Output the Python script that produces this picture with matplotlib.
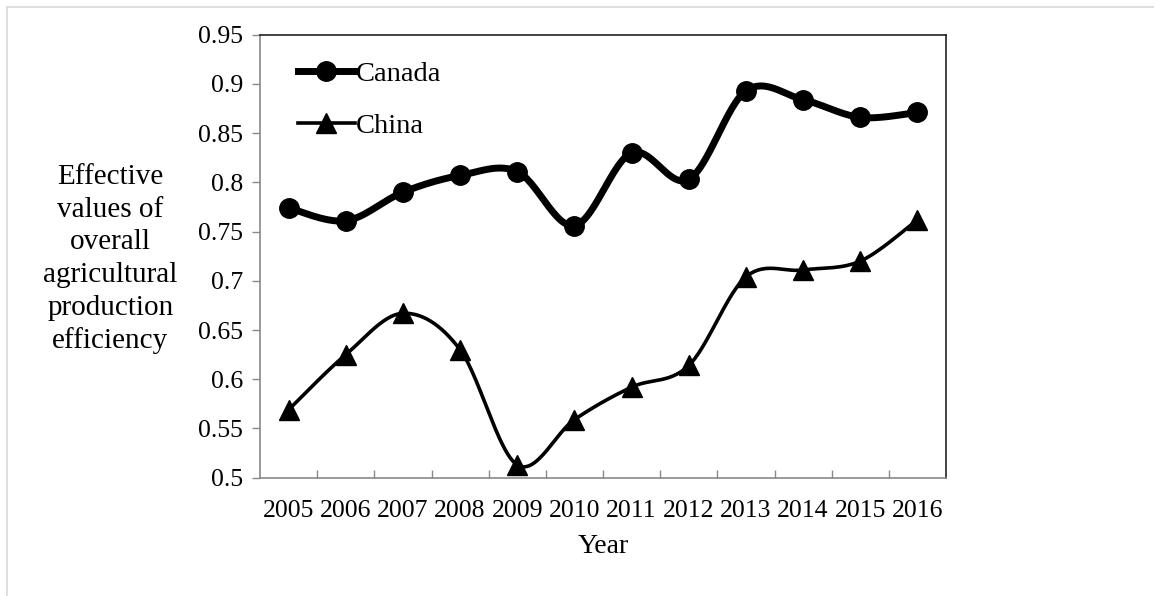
import numpy as np
import matplotlib
matplotlib.use('Agg')
import matplotlib.pyplot as plt
from matplotlib.lines import Line2D

plt.rcParams['font.family'] = ['Liberation Serif', 'DejaVu Serif']

years = ['2005', '2006', '2007', '2008', '2009', '2010',
         '2011', '2012', '2013', '2014', '2015', '2016']
canada = [0.774, 0.761, 0.790, 0.807, 0.811, 0.756,
          0.830, 0.803, 0.893, 0.884, 0.866, 0.871]
china = [0.569, 0.625, 0.667, 0.630, 0.513, 0.559,
         0.592, 0.614, 0.704, 0.711, 0.720, 0.762]
y_ticks = [0.5, 0.55, 0.6, 0.65, 0.7, 0.75, 0.8, 0.85, 0.9, 0.95]
y_labels = ['0.5', '0.55', '0.6', '0.65', '0.7', '0.75', '0.8', '0.85', '0.9', '0.95']


def smooth(xs, ys, steps=30):
    """
    Excel-like smoothed line: Catmull-Rom through all points.
    """
    xs = np.asarray(xs, dtype=float)
    ys = np.asarray(ys, dtype=float)
    px = np.concatenate([[xs[0]], xs, [xs[-1]]])
    py = np.concatenate([[ys[0]], ys, [ys[-1]]])
    out_x = []
    out_y = []
    t = np.linspace(0, 1, steps)
    for i in range(1, len(px) - 2):
        b0x, b0y = px[i], py[i]
        b3x, b3y = px[i + 1], py[i + 1]
        b1x = b0x + (px[i + 1] - px[i - 1]) / 6
        b1y = b0y + (py[i + 1] - py[i - 1]) / 6
        b2x = b3x - (px[i + 2] - px[i]) / 6
        b2y = b3y - (py[i + 2] - py[i]) / 6
        bx = (1 - t) ** 3 * b0x + 3 * (1 - t) ** 2 * t * b1x + 3 * (1 - t) * t ** 2 * b2x + t ** 3 * b3x
        by = (1 - t) ** 3 * b0y + 3 * (1 - t) ** 2 * t * b1y + 3 * (1 - t) * t ** 2 * b2y + t ** 3 * b3y
        out_x.extend(bx)
        out_y.extend(by)
    return np.array(out_x), np.array(out_y)


fig = plt.figure(figsize=(11.54, 5.96), dpi=100)
ax = fig.add_axes([0.2253, 0.1985, 0.5945, 0.7433])

x = np.arange(len(years))

sx, sy = smooth(x, canada)
ax.plot(sx, sy, color='black', linewidth=5, solid_capstyle='round', zorder=3)
ax.plot(x, canada, linestyle='none', marker='o', markersize=14, color='black', zorder=4)

sx, sy = smooth(x, china)
ax.plot(sx, sy, color='black', linewidth=2.6, zorder=3)
ax.plot(x, china, linestyle='none', marker='^', markersize=14, color='black', zorder=4)

ax.set_xlim(-0.5, len(years) - 0.5)
ax.set_ylim(0.5, 0.95)
ax.set_yticks(y_ticks)
ax.set_yticklabels(y_labels)
ax.set_xticks(x)
ax.set_xticklabels(years)
ax.set_xticks(np.arange(0.5, len(years) - 1, 1), minor=True)

ax.tick_params(axis='y', direction='out', length=6, width=1, color='#898989',
               labelsize=18.5, pad=6)
ax.tick_params(axis='x', which='major', length=0, labelsize=18.5, pad=16)
ax.tick_params(axis='x', which='minor', direction='in', length=6, width=1, color='#898989')

for side in ['left', 'bottom']:
    ax.spines[side].set_color('#898989')
    ax.spines[side].set_linewidth(1.2)
for side in ['top', 'right']:
    ax.spines[side].set_color('#222222')
    ax.spines[side].set_linewidth(1.2)

ax.set_xlabel('Year', fontsize=20, labelpad=9)

handles = [
    Line2D([], [], color='black', linewidth=5, marker='o', markersize=14),
    Line2D([], [], color='black', linewidth=2.6, marker='^', markersize=14),
]
ax.legend(handles, ['Canada', 'China'], loc='upper left', bbox_to_anchor=(0.055, 0.94),
          frameon=False, fontsize=20.5, borderpad=0, borderaxespad=0,
          handlelength=2.0, handletextpad=0.05, labelspacing=0.9)

fig.text(0.0955, 0.565, 'Effective\nvalues of\noverall\nagricultural\nproduction\nefficiency',
         ha='center', va='center', multialignment='center', fontsize=21, linespacing=1.33)

# light outer frame of the picture
fig.add_artist(Line2D([0.006, 0.006], [0.0, 0.988], transform=fig.transFigure,
                      color='#d9d9d9', linewidth=1.2))
fig.add_artist(Line2D([0.006, 1.0], [0.988, 0.988], transform=fig.transFigure,
                      color='#d9d9d9', linewidth=1.2))

fig.savefig('out.png', dpi=100)
